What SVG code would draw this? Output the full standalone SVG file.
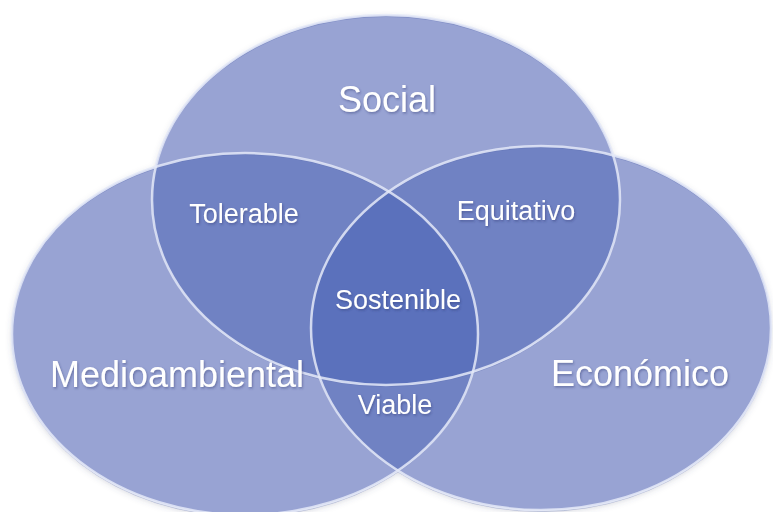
<svg xmlns="http://www.w3.org/2000/svg" width="773" height="512" viewBox="0 0 773 512">
  <style>
    .base { fill: #98a3d3; }
    .two { fill: #7082c3; }
    .three { fill: #5b71bc; }
    .rim { fill: none; stroke: #e4e9f8; stroke-width: 2.5; stroke-opacity: 0.85; }
    .rimdark { fill: none; stroke: #5d6cae; stroke-width: 1; stroke-opacity: 0.35; }
    .big { font-family: "Liberation Sans", Arial, sans-serif; font-size: 36px; fill: #ffffff; text-anchor: middle; }
    .small { font-family: "Liberation Sans", Arial, sans-serif; font-size: 27px; fill: #ffffff; text-anchor: middle; }
  </style>
  <defs>
    <ellipse id="eS" cx="386" cy="200" rx="234" ry="185"/>
    <ellipse id="eM" cx="245" cy="334" rx="233" ry="181"/>
    <ellipse id="eE" cx="541" cy="328" rx="230" ry="182"/>
    <clipPath id="cS"><use href="#eS"/></clipPath>
    <clipPath id="cM"><use href="#eM"/></clipPath>
    <clipPath id="cE"><use href="#eE"/></clipPath>
    <filter id="shadow" x="-10%" y="-10%" width="120%" height="120%">
      <feDropShadow dx="0" dy="2" stdDeviation="3" flood-color="#4a5070" flood-opacity="0.25"/>
    </filter>
    <filter id="tshadow" x="-10%" y="-20%" width="120%" height="140%">
      <feDropShadow dx="1" dy="1.5" stdDeviation="1.2" flood-color="#2a3470" flood-opacity="0.45"/>
    </filter>
  </defs>

  <g id="shapes" filter="url(#shadow)">
    <g id="social-shape"><use href="#eS" class="base"/></g>
    <g id="medioambiental-shape"><use href="#eM" class="base"/></g>
    <g id="economico-shape"><use href="#eE" class="base"/></g>
  </g>

  <g id="overlaps">
    <g id="tolerable-area" clip-path="url(#cS)"><use href="#eM" class="two"/></g>
    <g id="equitativo-area" clip-path="url(#cS)"><use href="#eE" class="two"/></g>
    <g id="viable-area" clip-path="url(#cM)"><use href="#eE" class="two"/></g>
    <g id="sostenible-area" clip-path="url(#cS)"><g clip-path="url(#cM)"><use href="#eE" class="three"/></g></g>
  </g>

  <g id="rims">
    <use href="#eS" class="rimdark" transform="translate(0,1.5)"/>
    <use href="#eM" class="rimdark" transform="translate(0,1.5)"/>
    <use href="#eE" class="rimdark" transform="translate(0,1.5)"/>
    <use href="#eS" class="rim"/>
    <use href="#eM" class="rim"/>
    <use href="#eE" class="rim"/>
  </g>

  <g id="labels" filter="url(#tshadow)">
    <g id="social"><text class="big" x="387" y="112">Social</text></g>
    <g id="medioambiental"><text class="big" x="177" y="387">Medioambiental</text></g>
    <g id="economico"><text class="big" x="640" y="386">Económico</text></g>
    <g id="tolerable"><text class="small" x="244" y="223">Tolerable</text></g>
    <g id="equitativo"><text class="small" x="516" y="220">Equitativo</text></g>
    <g id="sostenible"><text class="small" x="398" y="309">Sostenible</text></g>
    <g id="viable"><text class="small" x="395" y="414">Viable</text></g>
  </g>
</svg>
